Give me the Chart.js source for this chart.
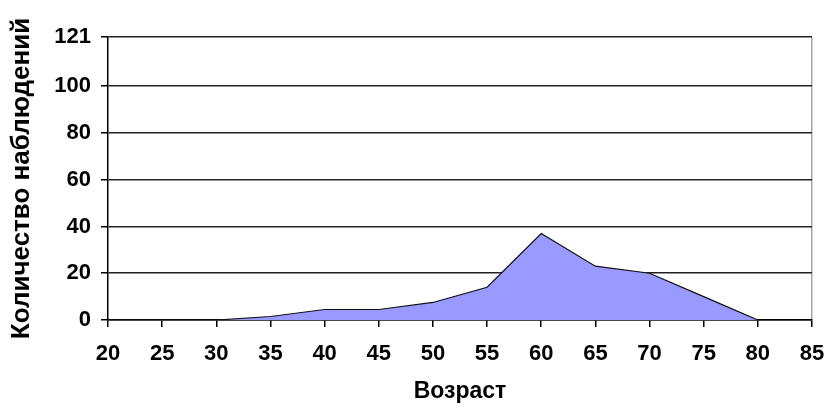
<!DOCTYPE html>
<html>
<head>
<meta charset="utf-8">
<script src="https://cdn.jsdelivr.net/npm/chart.js@4"></script>
<style>
  html, body { margin: 0; padding: 0; background: #ffffff; }
  #wrap { width: 825px; height: 405px; }
</style>
</head>
<body>
<div id="wrap"><canvas id="c" width="825" height="405"></canvas></div>
<script>
// Age groups and number of observations in each
const ages = [20, 25, 30, 35, 40, 45, 50, 55, 60, 65, 70, 75, 80];
const counts = [0, 0, 0, 1.5, 4.5, 4.5, 7.5, 14, 37, 23, 20, 10, 0];
const yTicks = [0, 20, 40, 60, 80, 100, 121];
const xTitle = 'Возраст';
const yTitle = 'Количество наблюдений';

const FONT = '"Liberation Sans", Arial, sans-serif';

const points = ages.map((a, i) => ({ x: a, y: counts[i] }));

new Chart(document.getElementById('c'), {
  type: 'line',
  data: {
    datasets: [{
      data: points,
      fill: 'origin',
      backgroundColor: '#9999ff',
      borderColor: '#111111',
      borderWidth: 1.2,
      pointRadius: 0,
      tension: 0
    }]
  },
  options: {
    responsive: false,
    animation: false,
    layout: { padding: { top: 37, right: 0, left: 0, bottom: 0 } },
    plugins: { legend: { display: false }, tooltip: { enabled: false } },
    scales: {
      x: {
        type: 'linear',
        min: 20,
        max: 85,
        afterFit: s => { s.height = 85; s.paddingRight = 13; },
        ticks: {
          stepSize: 5,
          color: '#000',
          padding: 14,
          maxRotation: 0,
          font: { family: FONT, size: 22, weight: 'bold' }
        },
        grid: {
          color: ctx => (ctx.tick && ctx.tick.value === 85) ? '#a6a6a6' : 'rgba(0,0,0,0)',
          tickColor: '#000',
          tickLength: 7,
          lineWidth: 1.5
        },
        border: { color: '#000', width: 1.5 },
        title: {
          display: true,
          text: xTitle,
          color: '#000',
          font: { family: FONT, size: 23, weight: 'bold' },
          padding: { top: 0, bottom: 0 }
        }
      },
      y: {
        min: 0,
        max: 121,
        afterFit: s => { s.width = 108; },
        afterBuildTicks: s => { s.ticks = yTicks.map(v => ({ value: v })); },
        ticks: {
          color: '#000',
          padding: 10,
          font: { family: FONT, size: 22, weight: 'bold' }
        },
        grid: {
          color: '#222',
          tickColor: '#000',
          tickLength: 7,
          lineWidth: 1.5
        },
        border: { color: '#000', width: 1.5 },
        title: {
          display: true,
          text: yTitle,
          color: '#000',
          font: { family: FONT, size: 26, weight: 'bold' },
          padding: { top: 6, bottom: 0 }
        }
      }
    }
  }
});
</script>
</body>
</html>
